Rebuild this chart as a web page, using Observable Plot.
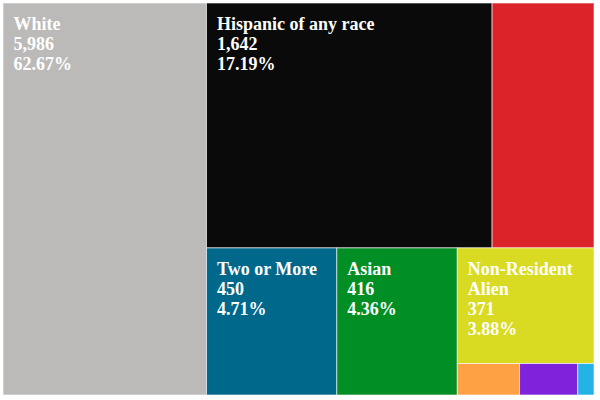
<!DOCTYPE html>
<html><head><meta charset="utf-8">
<script src="https://cdn.jsdelivr.net/npm/d3@7"></script>
<script src="https://cdn.jsdelivr.net/npm/@observablehq/plot@0.6"></script>
<style>body{margin:0;background:#fff}</style>
</head><body><div id="chart"></div>
<script>
const categories = ["White","Hispanic of any race","Black or African American","Two or More","Asian","Non-Resident Alien","Unknown","American Indian or Alaska Native","Native Hawaiian or Other Pacific Islander"];
const counts = [5986,1642,586,450,416,371,46,43,12];
const colors = ["#bcbab8","#0a0a0a","#dc2329","#00688b","#018e24","#d9db22","#fda144","#7f22dc","#22b2e3"];

const total = d3.sum(counts);
const data = categories.map((name,i)=>({name, value: counts[i], color: colors[i]}));
const pxLeft=3, pxWhiteEdge=206.5, pxRight=594, pxTop=3, pxBottom=395;
const share = counts[0]/total;
const layoutH = pxBottom-pxTop;
const layoutW = (pxRight-pxWhiteEdge)/(1-share);
const root = d3.hierarchy({children:data}).sum(d=>d.value||0).sort((a,b)=>b.value-a.value);
d3.treemap().tile(d3.treemapSquarify).size([layoutW, layoutH])(root);
const leaves = root.leaves().map(n=>({...n.data, x0:n.x0,x1:n.x1,y0:n.y0,y1:n.y1}));
const xDomain=[0, layoutW*share, layoutW];
const xRange=[pxLeft, pxWhiteEdge, pxRight];
const px = d3.scaleLinear(xDomain, xRange);
const fmtN = d3.format(","), fmtP = d3.format(".2%");
const FS = 18;

const marks = [
  Plot.rect(leaves, {x1:"x0", x2:"x1", y1:"y0", y2:"y1", fill:"color", stroke:"white", strokeOpacity:0.6, strokeWidth:1})
];
leaves.filter(d => px(d.x1)-px(d.x0) >= 110).forEach(d => {
  marks.push(Plot.text([d], {
    x:"x0", y:"y0",
    text: d=>`${d.name}\n${fmtN(d.value)}\n${fmtP(d.value/total)}`,
    lineWidth: (px(d.x1)-px(d.x0))/FS,
    lineHeight: 20/FS,
    textAnchor:"start", lineAnchor:"top", dx:10, dy:12,
    fill:"white", fontFamily:"Liberation Serif", fontWeight:"bold", fontSize:FS
  }));
});

const chart = Plot.plot({
  width:600, height:400, margin:0,
  x:{type:"linear", domain:xDomain, range:xRange, axis:null},
  y:{type:"linear", domain:[0,layoutH], range:[pxTop,pxBottom], axis:null},
  color:{type:"identity"},
  marks
});
document.getElementById("chart").appendChild(chart);
</script>
</body></html>
